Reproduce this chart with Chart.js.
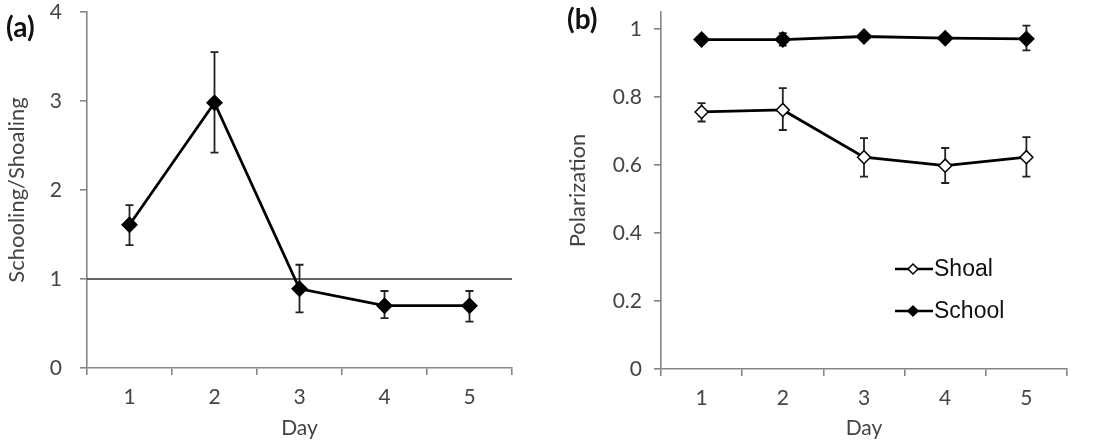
<!DOCTYPE html>
<html>
<head>
<meta charset="utf-8">
<script src="https://cdn.jsdelivr.net/npm/chart.js@4/dist/chart.umd.min.js"></script>
<style>
  html, body { margin: 0; padding: 0; background: #fff; }
  #wrap { position: relative; width: 1098px; height: 441px; }
  #chartA { position: absolute; left: 0; top: 0; }
  #chartB { position: absolute; left: 549px; top: 0; }
</style>
</head>
<body>
<div id="wrap">
  <canvas id="chartA" width="549" height="441"></canvas>
  <canvas id="chartB" width="549" height="441"></canvas>
</div>
<script>
// data
const days = ['1', '2', '3', '4', '5'];

const ratio = [1.61, 2.98, 0.89, 0.70, 0.70];
const ratioHi = [1.83, 3.55, 1.16, 0.865, 0.865];
const ratioLo = [1.38, 2.42, 0.625, 0.56, 0.52];
const refLine = 1;
const ticksA = [0, 1, 2, 3, 4];

const shoal = [0.756, 0.762, 0.623, 0.598, 0.623];
const shoalHi = [0.782, 0.826, 0.679, 0.650, 0.682];
const shoalLo = [0.728, 0.703, 0.566, 0.547, 0.566];
const school = [0.969, 0.969, 0.978, 0.973, 0.971];
const schoolHi = [0.975, 0.988, 0.984, 0.979, 1.01];
const schoolLo = [0.963, 0.951, 0.972, 0.967, 0.937];
const ticksB = [0, 0.2, 0.4, 0.6, 0.8, 1];

Chart.defaults.font.family = "Lato, 'Open Sans', sans-serif";
Chart.defaults.color = '#444';

const axisGrey = '#858585';
const textGrey = '#444';

// error bars, drawn under the markers
const errorBars = {
    id: 'errorBars',
    beforeDatasetsDraw(chart) {
        const ctx = chart.ctx;
        const x = chart.scales.x, y = chart.scales.y;
        ctx.save();
        ctx.strokeStyle = '#222';
        ctx.lineWidth = 1.8;
        chart.data.datasets.forEach(ds => {
            if ( !ds.errHi ) return;
            ds.data.forEach((v, i) => {
                const px = x.getPixelForValue(i);
                const top = y.getPixelForValue(ds.errHi[i]);
                const bot = y.getPixelForValue(ds.errLo[i]);
                ctx.beginPath();
                ctx.moveTo(px, top); ctx.lineTo(px, bot);
                ctx.moveTo(px - 4, top); ctx.lineTo(px + 4, top);
                ctx.moveTo(px - 4, bot); ctx.lineTo(px + 4, bot);
                ctx.stroke();
            });
        });
        ctx.restore();
    }
};

// horizontal line at ratio == 1
const refLinePlugin = {
    id: 'refLine',
    beforeDatasetsDraw(chart) {
        const { ctx, chartArea } = chart;
        const py = chart.scales.y.getPixelForValue(refLine);
        ctx.save();
        ctx.strokeStyle = '#333';
        ctx.lineWidth = 1.6;
        ctx.beginPath();
        ctx.moveTo(chartArea.left, py);
        ctx.lineTo(chartArea.right, py);
        ctx.stroke();
        ctx.restore();
    }
};

function panelLabel(text, dx, dy) {
    return {
        id: 'panelLabel',
        afterDraw(chart) {
            const ctx = chart.ctx;
            ctx.save();
            ctx.font = "bold 28px Lato, 'Open Sans', sans-serif";
            ctx.fillStyle = '#111';
            ctx.textBaseline = 'middle';
            ctx.fillText(text, dx, dy);
            ctx.restore();
        }
    };
}

function diamond(ctx, x, y, r, fill) {
    ctx.beginPath();
    ctx.moveTo(x, y - r); ctx.lineTo(x + r, y); ctx.lineTo(x, y + r); ctx.lineTo(x - r, y);
    ctx.closePath();
    ctx.fillStyle = fill;
    ctx.fill();
    ctx.lineWidth = 1.5;
    ctx.strokeStyle = '#000';
    ctx.stroke();
}

// legend placed inside the plot area of (b)
const insideLegend = {
    id: 'insideLegend',
    afterDraw(chart) {
        const { ctx, chartArea } = chart;
        const x0 = chartArea.left + 234;
        let yy = 269;
        ctx.save();
        chart.data.datasets.forEach(ds => {
            ctx.strokeStyle = '#000';
            ctx.lineWidth = 2.5;
            ctx.beginPath();
            ctx.moveTo(x0, yy); ctx.lineTo(x0 + 38, yy);
            ctx.stroke();
            diamond(ctx, x0 + 18, yy, 5, ds.pointBackgroundColor);
            ctx.font = "23px 'Liberation Sans', Arial, sans-serif";
            ctx.fillStyle = '#111';
            ctx.textBaseline = 'middle';
            ctx.fillText(ds.label, x0 + 39, yy + 1);
            yy += 42;
        });
        ctx.restore();
    }
};

function xAxis(height) {
    return {
        type: 'category',
        offset: true,
        border: { color: axisGrey, width: 1.6 },
        grid: { offset: true, drawOnChartArea: false, drawTicks: true, tickLength: 7, color: axisGrey, lineWidth: 1.6 },
        ticks: { padding: 10, color: textGrey, font: { size: 21 } },
        title: { display: true, text: 'Day', color: textGrey, font: { size: 21 }, padding: { top: 0, bottom: 0 } },
        afterFit: s => { s.height = height; s.paddingLeft = 0; s.paddingRight = 0; }
    };
}

function yAxis(width, max, ticks, title, pad, titlePad) {
    return {
        min: 0,
        max: max,
        border: { color: axisGrey, width: 1.6 },
        grid: { drawOnChartArea: false, drawTicks: true, tickLength: 7, color: axisGrey, lineWidth: 1.6 },
        afterBuildTicks: s => { s.ticks = ticks.map(v => ({ value: v })); },
        ticks: { padding: pad, color: textGrey, font: { size: 21 }, callback: v => String(v) },
        title: { display: true, text: title, color: textGrey, font: { size: 22 }, padding: { top: titlePad, bottom: 0 } },
        afterFit: s => { s.width = width; s.paddingTop = 0; s.paddingBottom = 0; }
    };
}

new Chart(document.getElementById('chartA'), {
    type: 'line',
    data: {
        labels: days,
        datasets: [{
            label: 'Schooling/Shoaling',
            data: ratio,
            errHi: ratioHi,
            errLo: ratioLo,
            borderColor: '#000',
            borderWidth: 2.8,
            pointStyle: 'rectRot',
            pointRadius: 6.5,
            pointBackgroundColor: '#000',
            pointBorderColor: '#000',
            tension: 0
        }]
    },
    options: {
        responsive: false,
        animation: false,
        layout: { padding: { left: 0, top: 12, right: 37, bottom: 0 } },
        plugins: { legend: { display: false }, tooltip: { enabled: false } },
        scales: {
            x: xAxis(73),
            y: yAxis(87, 4, ticksA, 'Schooling/Shoaling', 18, 4)
        }
    },
    plugins: [refLinePlugin, errorBars, panelLabel('(a)', 6, 28)]
});

new Chart(document.getElementById('chartB'), {
    type: 'line',
    data: {
        labels: days,
        datasets: [{
            label: 'Shoal',
            data: shoal,
            errHi: shoalHi,
            errLo: shoalLo,
            borderColor: '#000',
            borderWidth: 2.8,
            pointStyle: 'rectRot',
            pointRadius: 6.5,
            pointBorderWidth: 1.5,
            pointBackgroundColor: '#fff',
            pointBorderColor: '#000',
            tension: 0
        }, {
            label: 'School',
            data: school,
            errHi: schoolHi,
            errLo: schoolLo,
            borderColor: '#000',
            borderWidth: 2.8,
            pointStyle: 'rectRot',
            pointRadius: 6.5,
            pointBackgroundColor: '#000',
            pointBorderColor: '#000',
            tension: 0
        }]
    },
    options: {
        responsive: false,
        animation: false,
        layout: { padding: { left: 0, top: 12, right: 31, bottom: 0 } },
        plugins: { legend: { display: false }, tooltip: { enabled: false } },
        scales: {
            x: xAxis(72),
            y: yAxis(112, 1.05, ticksB, 'Polarization', 12, 16)
        }
    },
    plugins: [errorBars, insideLegend, panelLabel('(b)', 18, 20)]
});
</script>
</body>
</html>
